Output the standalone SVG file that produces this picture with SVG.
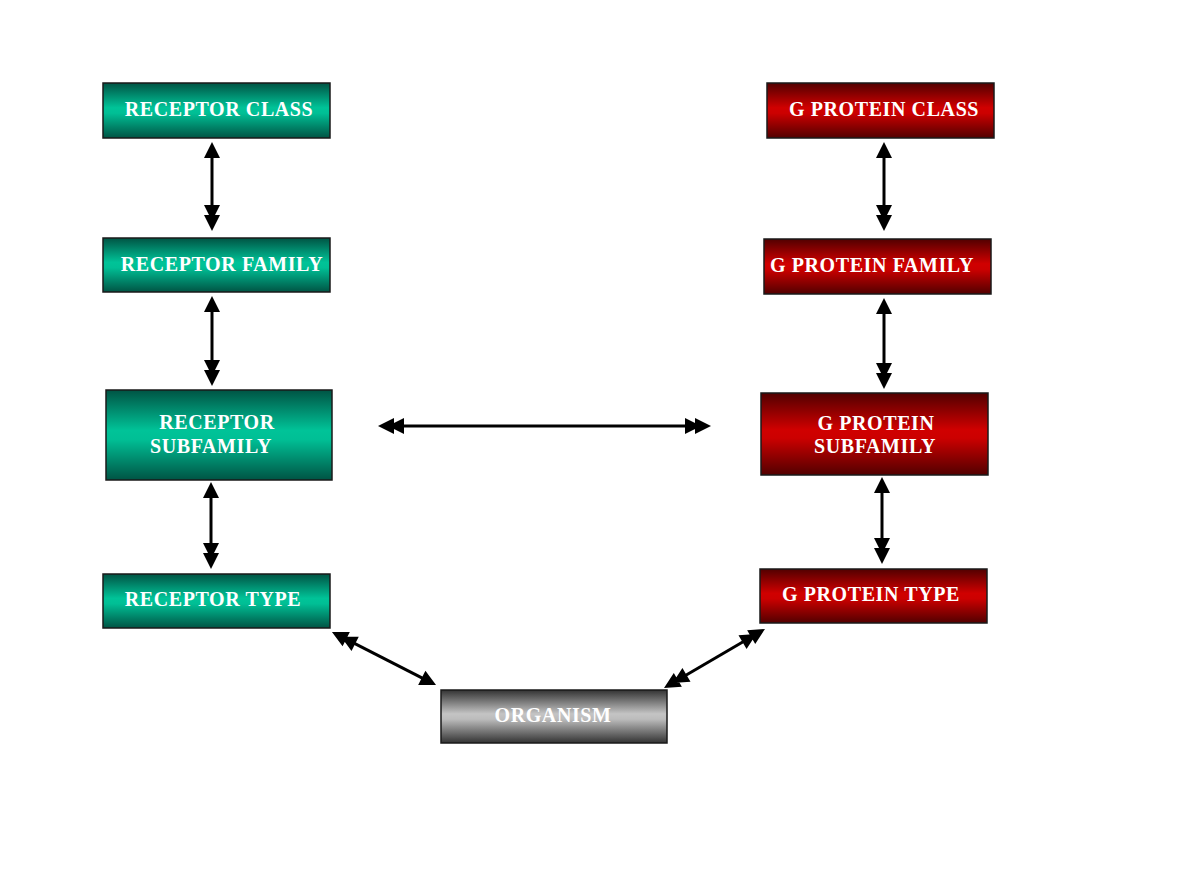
<svg xmlns="http://www.w3.org/2000/svg" width="1200" height="873" viewBox="0 0 1200 873">
<defs>
<linearGradient id="gTeal" x1="0" y1="0" x2="0" y2="1">
<stop offset="0" stop-color="#005444"/><stop offset="0.45" stop-color="#00c398"/><stop offset="0.55" stop-color="#00bf95"/><stop offset="1" stop-color="#005444"/>
</linearGradient>
<linearGradient id="gRed" x1="0" y1="0" x2="0" y2="1">
<stop offset="0" stop-color="#520000"/><stop offset="0.45" stop-color="#d00000"/><stop offset="0.55" stop-color="#cc0000"/><stop offset="1" stop-color="#520000"/>
</linearGradient>
<linearGradient id="gGray" x1="0" y1="0" x2="0" y2="1">
<stop offset="0" stop-color="#333333"/><stop offset="0.45" stop-color="#c4c4c4"/><stop offset="0.55" stop-color="#bcbcbc"/><stop offset="1" stop-color="#333333"/>
</linearGradient>
<marker id="single" markerUnits="userSpaceOnUse" markerWidth="40" markerHeight="40" viewBox="-20 -20 40 40" refX="4" refY="0" orient="auto-start-reverse" overflow="visible">
<path d="M-6,-8 L10,0 L-6,8 z" fill="#000"/>
</marker>
<marker id="double" markerUnits="userSpaceOnUse" markerWidth="40" markerHeight="40" viewBox="-20 -20 40 40" refX="4" refY="0" orient="auto-start-reverse" overflow="visible">
<path d="M-6,-8 L10,0 L-6,8 z M-16,-8 L0,0 L-16,8 z" fill="#000"/>
</marker>
</defs>
<style>
.box{stroke:#1a1a1a;stroke-width:1.5}
.teal{fill:url(#gTeal)}
.red{fill:url(#gRed)}
.gray{fill:url(#gGray)}
text{font-family:"Liberation Serif","Times New Roman",serif;font-weight:bold;font-size:20px;letter-spacing:0.6px;fill:#ffffff;text-anchor:middle}
.c{stroke:#000;stroke-width:3;fill:none}
.v{marker-start:url(#single);marker-end:url(#double)}
.dd{marker-start:url(#double);marker-end:url(#double)}
.ds{marker-start:url(#double);marker-end:url(#single)}
</style>
<rect width="1200" height="873" fill="#ffffff"/>
<g id="connectors">
<line class="c v" x1="212" y1="148" x2="212" y2="225"/>
<line class="c v" x1="212" y1="302" x2="212" y2="380"/>
<line class="c v" x1="211" y1="488" x2="211" y2="563"/>
<line class="c v" x1="884" y1="148" x2="884" y2="225"/>
<line class="c v" x1="884" y1="304" x2="884" y2="383"/>
<line class="c v" x1="882" y1="483" x2="882" y2="558"/>
<line class="c dd" x1="384" y1="426" x2="705" y2="426"/>
<line class="c ds" x1="337.3" y1="634.7" x2="430.7" y2="682.3"/>
<line class="c dd" x1="669.2" y1="685" x2="759.8" y2="632"/>
</g>
<g id="receptor-class"><rect class="box teal" x="103" y="83" width="227" height="55"/><text x="219" y="116">RECEPTOR CLASS</text></g>
<g id="receptor-family"><rect class="box teal" x="103" y="238" width="227" height="54"/><text x="222" y="271">RECEPTOR FAMILY</text></g>
<g id="receptor-subfamily"><rect class="box teal" x="106" y="390" width="226" height="90"/><text x="217" y="429">RECEPTOR</text><text x="211" y="453">SUBFAMILY</text></g>
<g id="receptor-type"><rect class="box teal" x="103" y="574" width="227" height="54"/><text x="213" y="606">RECEPTOR TYPE</text></g>
<g id="gprotein-class"><rect class="box red" x="767" y="83" width="227" height="55"/><text x="884" y="116">G PROTEIN CLASS</text></g>
<g id="gprotein-family"><rect class="box red" x="764" y="239" width="227" height="55"/><text x="872" y="272">G PROTEIN FAMILY</text></g>
<g id="gprotein-subfamily"><rect class="box red" x="761" y="393" width="227" height="82"/><text x="876" y="430">G PROTEIN</text><text x="875" y="453">SUBFAMILY</text></g>
<g id="gprotein-type"><rect class="box red" x="760" y="569" width="227" height="54"/><text x="871" y="601">G PROTEIN TYPE</text></g>
<g id="organism"><rect class="box gray" x="441" y="690" width="226" height="53"/><text x="553" y="722">ORGANISM</text></g>
</svg>
